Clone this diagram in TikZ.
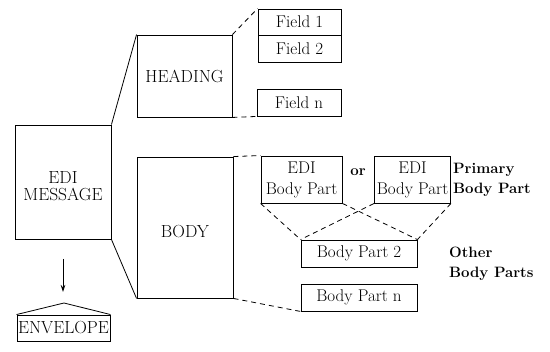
\documentclass[tikz,border=0pt]{standalone}
\usepackage{fontspec}
\usetikzlibrary{arrows.meta}
\begin{document}
\begin{tikzpicture}[x=1pt,y=-1pt,
  box/.style={draw,line width=0.9pt,inner sep=0pt,align=center,font=\fontsize{17}{21}\selectfont},
  capbox/.style={box,font=\fontsize{17.5}{17}\selectfont},
  dsh/.style={dash pattern=on 5pt off 4pt,line width=0.8pt},
  conn/.style={line width=0.8pt},
  lbl/.style={font=\bfseries\fontsize{15}{20}\selectfont,align=left,inner sep=0pt},
]
\useasboundingbox (0,0) rectangle (550,352);
% main boxes
\node[capbox,minimum width=96pt,minimum height=114pt] (msg) at (63,182) {\rule{0pt}{20pt}EDI\\MESSAGE};
\node[capbox,minimum width=95pt,minimum height=82pt] (head) at (184.5,76) {HEADING};
\node[capbox,minimum width=96pt,minimum height=141pt] (body) at (185,227.5) {\rule{0pt}{20pt}BODY};
% fields
\node[box,minimum width=83pt,minimum height=26pt] (f1) at (299.5,22) {Field 1};
\node[box,minimum width=83pt,minimum height=27pt] (f2) at (299.5,48.5) {Field 2};
\node[box,minimum width=84pt,minimum height=27pt] (fn) at (299,102.5) {Field n};
% body parts
\node[box,minimum width=81pt,minimum height=47pt] (bpa) at (301.5,179.5) {EDI\\Body Part};
\node[box,minimum width=76pt,minimum height=47pt] (bpb) at (412.5,179.5) {EDI\\Body Part};
\node[box,minimum width=116pt,minimum height=27pt] (bp2) at (359,253.5) {Body Part 2};
\node[box,minimum width=116pt,minimum height=27pt] (bpn) at (359,297.5) {Body Part n};
% labels
\node[lbl] (or) at (358,172) {or};
\node[lbl,anchor=west] (prim) at (453,179.5) {Primary\\Body Part};
\node[lbl,anchor=west] (oth) at (449,264) {Other\\Body Parts};
% envelope
\node[capbox,minimum width=93pt,minimum height=26pt] (env) at (63.5,328) {ENVELOPE};
\coordinate (apex) at (64,303);
\draw[conn] (env.north west) -- (apex) -- (env.north east);
\coordinate (as) at (63,259);
\coordinate (ae) at (63,292);
\draw[conn,-{Stealth[length=7pt,width=4.5pt]}] (as) -- (ae);
% solid connectors
\draw[conn] (msg.north east) -- (head.north west);
\draw[conn] (msg.south east) -- (body.south west);
% dashed connectors
\draw[dsh] (head.north east) -- (f1.north west);
\draw[dsh] (head.south east) -- (fn.south west);
\draw[dsh] (body.north east) -- (bpa.north west);
\draw[dsh] (body.south east) -- (bpn.south west);
\draw[dsh] (bpa.south west) -- (bp2.north west);
\draw[dsh] (bpa.south east) -- (bp2.north east);
\draw[dsh] (bpb.south west) -- (bp2.north west);
\draw[dsh] (bpb.south east) -- (bp2.north east);
\end{tikzpicture}
\end{document}
